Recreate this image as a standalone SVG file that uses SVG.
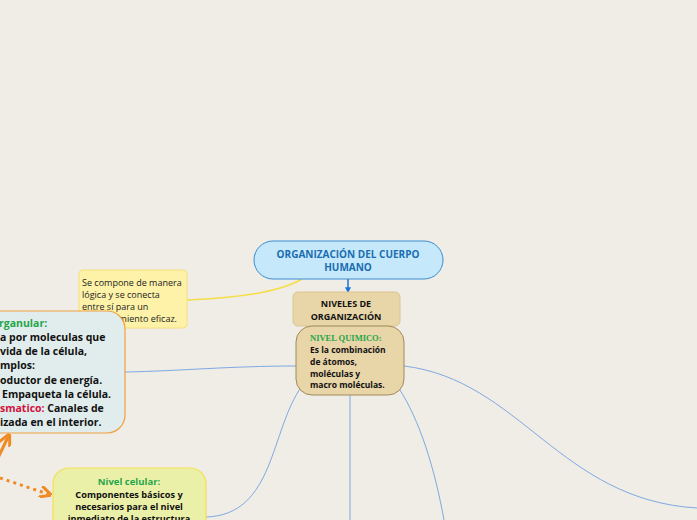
<svg xmlns="http://www.w3.org/2000/svg" width="697" height="520" viewBox="0 0 697 520">
<defs>
<style>
text{font-family:"Open Sans","Noto Sans","DejaVu Sans",sans-serif}
.b{font-weight:bold;fill:#111}
.n{fill:#222}
.g{fill:#1fa64a;font-weight:bold}
.r{fill:#d4103c;font-weight:bold}
.conn{fill:none;stroke:#7ea9e4;stroke-width:1}
</style>
<marker id="ab" viewBox="0 0 10 10" refX="8" refY="5" markerWidth="4" markerHeight="4" orient="auto"><path d="M0,0L10,5L0,10z" fill="#1a74d8"/></marker>
<marker id="ao" viewBox="0 0 10 10" refX="7" refY="5" markerWidth="4" markerHeight="4" orient="auto"><path d="M0,0L10,5L0,10" fill="none" stroke="#f08a24" stroke-width="2.5"/></marker>
</defs>
<rect width="697" height="520" fill="#f0ece6"/>
<g id="connectors">
<path class="conn" d="M296,366 C230,366 180,371 125,372"/>
<path class="conn" d="M302,386 C270,430 275,515 206,517"/>
<path class="conn" d="M350,395 L350,520"/>
<path class="conn" d="M398,387 C420,420 435,470 444,520"/>
<path class="conn" d="M404,366 C520,380 560,500 697,508"/>
<path d="M187,300 C240,298 280,292 302,279" fill="none" stroke="#f5de45" stroke-width="1.5"/>
<path d="M348,279 L348,292" stroke="#1a74d8" stroke-width="1.5" marker-end="url(#ab)"/>
<path d="M0,478 L48,494" stroke="#f08a24" stroke-width="3" stroke-dasharray="3,4" fill="none" marker-end="url(#ao)"/>
<path d="M-4,462 L8,437" stroke="#f08a24" stroke-width="3" fill="none" marker-end="url(#ao)"/>
</g>
<g id="note">
<rect x="79" y="270" width="108" height="58" rx="4" fill="#fdf2a8" stroke="#f5e07a"/>
<text x="82" y="286" font-size="9" class="n">Se compone de manera</text>
<text x="82" y="298" font-size="9" class="n">lógica y se conecta</text>
<text x="82" y="310" font-size="9" class="n">entre sí para un</text>
<text x="82" y="322" font-size="9" class="n">funcionamiento eficaz.</text>
</g>
<g id="organular">
<rect x="-40" y="311" width="165" height="122" rx="18" fill="#e1ecec" stroke="#f0a040" stroke-width="1.2"/>
<text x="-1" y="327" font-size="10.5" class="g">rganular:</text>
<text x="0" y="341" font-size="10.5" class="b">a por moleculas que</text>
<text x="0" y="355" font-size="10.5" class="b">vida de la célula,</text>
<text x="0" y="369" font-size="10.5" class="b">mplos:</text>
<text x="0" y="384" font-size="10.5" class="b">oductor de energía.</text>
<text x="2" y="398" font-size="10.5" class="b">Empaqueta la célula.</text>
<text x="0" y="412" font-size="10.5"><tspan class="r">smatico:</tspan><tspan class="b"> Canales de</tspan></text>
<text x="0" y="426" font-size="10.5" class="b">izada en el interior.</text>
</g>
<g id="main">
<rect x="254" y="241" width="189" height="38" rx="19" fill="#c5e9fb" stroke="#3a8bd0"/>
<text x="348" y="258" font-size="10" font-weight="bold" fill="#1a6db0" text-anchor="middle">ORGANIZACIÓN DEL CUERPO</text>
<text x="348" y="271" font-size="10" font-weight="bold" fill="#1a6db0" text-anchor="middle">HUMANO</text>
</g>
<g id="niveles">
<rect x="293" y="292" width="107" height="34" rx="5" fill="#e8d5a8" stroke="#dcc690"/>
<text x="346" y="307" font-size="9" class="b" text-anchor="middle">NIVELES DE</text>
<text x="346" y="320" font-size="9" class="b" text-anchor="middle">ORGANIZACIÓN</text>
</g>
<g id="quimico">
<rect x="296" y="326" width="108" height="69" rx="16" fill="#e8d5a8" stroke="#a08a5a"/>
<text x="310" y="341" font-size="8.5" style="font-family:'Liberation Serif',serif" class="g">NIVEL QUIMICO:</text>
<text x="310" y="353" font-size="8.5" class="b">Es la combinación</text>
<text x="310" y="365" font-size="8.5" class="b">de  átomos,</text>
<text x="310" y="377" font-size="8.5" class="b">moléculas y</text>
<text x="310" y="388" font-size="8.5" class="b">macro moléculas.</text>
</g>
<g id="celular">
<rect x="53" y="468" width="153" height="70" rx="16" fill="#eaf0a8" stroke="#f5e050" stroke-width="1.2"/>
<text x="129" y="485" font-size="9.5" class="g" text-anchor="middle">Nivel celular:</text>
<text x="129" y="498" font-size="9.2" class="b" text-anchor="middle">Componentes básicos y</text>
<text x="129" y="510" font-size="9.2" class="b" text-anchor="middle">necesarios para el nivel</text>
<text x="129" y="522" font-size="9.2" class="b" text-anchor="middle">inmediato de la estructura</text>
</g>
</svg>
